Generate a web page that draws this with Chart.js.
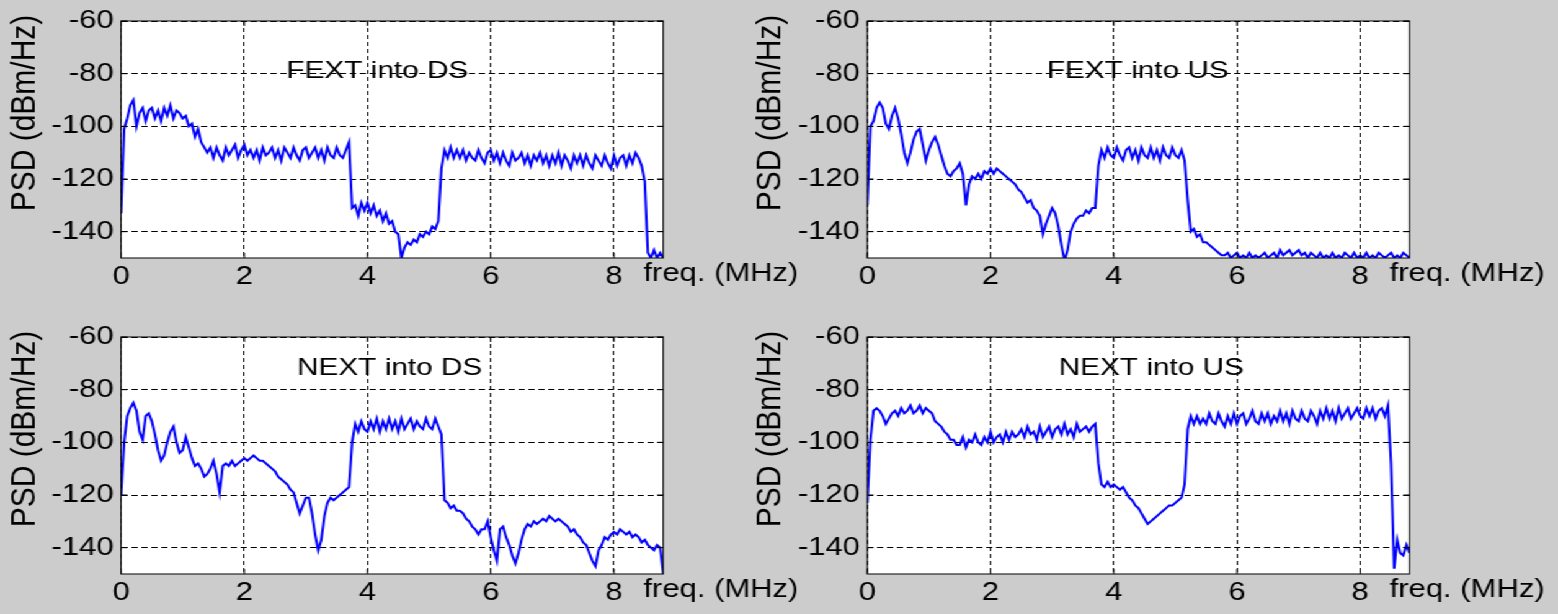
<!DOCTYPE html>
<html>
<head>
<meta charset="utf-8">
<title>FEXT / NEXT PSD</title>
<script src="https://cdn.jsdelivr.net/npm/chart.js@4.4.1/dist/chart.umd.min.js"></script>
<style>
  html, body { margin: 0; padding: 0; background: #cccccc; }
  body { width: 1558px; height: 614px; overflow: hidden; }
  /* the figure is drawn narrow and stretched sideways, like the source image */
  #fig { position: relative; height: 614px; transform-origin: 0 0; }
  #fig canvas { position: absolute; left: 0; top: 0; }
</style>
</head>
<body>
<div id="fig">
  <canvas id="fextDs"></canvas>
  <canvas id="fextUs"></canvas>
  <canvas id="nextDs"></canvas>
  <canvas id="nextUs"></canvas>
</div>
<script>
// ============================================
// DATA  (PSD in dBm/Hz, one value every 0.05 MHz from 0 to 8.8 MHz)
// ============================================
const FREQ_STEP = 0.05;
const xTicks = [0, 2, 4, 6, 8];
const yTicks = [-140, -120, -100, -80, -60];

const psdFextDs = [
    -133, -101, -97, -92, -90, -100, -95, -93, -98, -94,
    -93, -97, -94, -98, -93, -96, -92, -97, -94, -95,
    -97, -96, -100, -99, -104, -101, -106, -108, -110, -108,
    -112, -108, -111, -113, -108, -111, -109, -107, -112, -109,
    -107, -111, -109, -112, -109, -113, -108, -111, -110, -108,
    -112, -109, -113, -108, -110, -112, -108, -111, -113, -109,
    -108, -112, -110, -108, -112, -109, -113, -108, -111, -112,
    -108, -111, -112, -109, -106, -131, -130, -134, -129, -132,
    -129, -133, -130, -134, -132, -136, -133, -137, -136, -140,
    -141, -150, -146, -144, -145, -143, -144, -141, -142, -140,
    -141, -138, -139, -136, -116, -109, -112, -108, -112, -109,
    -112, -109, -113, -110, -112, -113, -109, -112, -114, -110,
    -109, -113, -110, -114, -110, -113, -115, -110, -113, -112,
    -110, -114, -111, -115, -111, -113, -110, -114, -111, -115,
    -111, -114, -110, -115, -111, -113, -116, -111, -114, -111,
    -115, -111, -114, -116, -111, -113, -115, -111, -114, -116,
    -111, -115, -112, -111, -115, -111, -114, -110, -112, -115,
    -121, -148, -150, -147, -150, -148, -150
];

const psdFextUs = [
    -130, -100, -98, -93, -91, -93, -99, -101, -96, -93,
    -97, -103, -110, -114, -110, -105, -102, -101, -107, -113,
    -109, -106, -104, -107, -111, -115, -118, -119, -117, -116,
    -114, -118, -130, -122, -119, -120, -118, -120, -117, -118,
    -116, -118, -116, -117, -118, -119, -120, -121, -122, -124,
    -125, -127, -129, -128, -131, -132, -134, -141, -137, -134,
    -131, -133, -138, -145, -151, -147, -140, -137, -135, -134,
    -134, -132, -133, -131, -131, -115, -109, -112, -108, -111,
    -112, -108, -111, -113, -109, -108, -112, -109, -113, -108,
    -111, -112, -108, -112, -109, -113, -108, -111, -112, -108,
    -111, -112, -109, -113, -128, -140, -139, -142, -141, -144,
    -144, -145, -146, -147, -148, -149, -149, -148, -150, -149,
    -148, -150, -149, -150, -148, -150, -149, -150, -149, -148,
    -150, -149, -148, -150, -147, -149, -148, -147, -149, -148,
    -147, -149, -148, -150, -148, -149, -150, -148, -150, -149,
    -150, -148, -150, -149, -150, -148, -149, -150, -148, -150,
    -149, -150, -148, -150, -149, -150, -148, -149, -150, -149,
    -148, -150, -149, -150, -148, -149, -150
];

const psdNextDs = [
    -120, -100, -90, -87, -85, -88, -96, -99, -90, -89,
    -92, -97, -103, -107, -105, -100, -96, -94, -100, -104,
    -103, -98, -102, -106, -109, -108, -110, -113, -112, -110,
    -107, -112, -119, -109, -108, -109, -107, -109, -108, -107,
    -106, -107, -106, -105, -106, -107, -107, -108, -109, -110,
    -111, -113, -114, -115, -116, -118, -119, -123, -127, -124,
    -121, -121, -127, -135, -141, -137, -128, -123, -121, -122,
    -121, -120, -119, -118, -117, -100, -93, -96, -92, -95,
    -96, -92, -95, -91, -96, -92, -95, -91, -95, -92,
    -96, -91, -95, -93, -91, -95, -92, -94, -95, -91,
    -94, -95, -91, -94, -97, -122, -123, -125, -124, -126,
    -126, -127, -129, -130, -132, -133, -135, -133, -133, -130,
    -136, -141, -145, -133, -132, -136, -139, -143, -146, -142,
    -137, -133, -131, -132, -130, -131, -130, -129, -130, -128,
    -129, -130, -129, -130, -131, -132, -134, -133, -135, -136,
    -138, -139, -142, -145, -147, -141, -139, -136, -137, -135,
    -134, -135, -133, -134, -135, -134, -136, -135, -136, -138,
    -137, -139, -140, -141, -139, -140, -150
];

const psdNextUs = [
    -123, -99, -88, -87, -88, -90, -93, -91, -89, -88,
    -90, -87, -89, -88, -86, -89, -88, -86, -89, -87,
    -88, -89, -92, -93, -94, -96, -97, -99, -99, -101,
    -101, -98, -102, -99, -100, -97, -100, -101, -98, -100,
    -96, -100, -98, -97, -100, -96, -99, -96, -98, -97,
    -95, -98, -94, -97, -96, -99, -94, -98, -96, -94,
    -98, -95, -94, -97, -93, -97, -95, -98, -93, -96,
    -95, -94, -96, -94, -93, -108, -116, -117, -115, -117,
    -116, -117, -118, -117, -119, -121, -122, -124, -125, -127,
    -129, -131, -130, -129, -128, -127, -126, -125, -124, -124,
    -123, -122, -121, -116, -95, -90, -93, -90, -93, -91,
    -93, -89, -92, -93, -89, -92, -94, -90, -93, -89,
    -93, -90, -89, -93, -91, -88, -92, -93, -89, -92,
    -89, -93, -90, -92, -88, -92, -89, -93, -88, -91,
    -92, -88, -91, -92, -88, -90, -93, -88, -91, -87,
    -91, -88, -92, -87, -91, -89, -87, -91, -89, -87,
    -90, -91, -87, -90, -87, -91, -88, -87, -90, -86,
    -108, -148, -137, -142, -143, -139, -142
];

// ============================================
// LAYOUT  (page pixels; the figure box is drawn narrow then stretched)
// ============================================
const PAGE_W = 1558;
const PAGE_H = 614;
const STRETCH = 1.24;
const FIG_W = Math.round(PAGE_W / STRETCH);
const Y_AXIS_W = 60;
const X_AXIS_H = 40;
const COL_LEFT = [121, 867].map(v => v / STRETCH);
const COL_RIGHT = [663, 1409].map(v => v / STRETCH);
const ROW_TOP = [19, 337];
const ROW_BOTTOM = [258, 574];
const FONT = '"Liberation Sans", Arial, Helvetica, sans-serif';
const FONT_SIZE = 25;

const panels = [
    { id: 'fextDs', title: 'FEXT into DS', psd: psdFextDs, col: 0, row: 0, titleAt: [4.16, -79] },
    { id: 'fextUs', title: 'FEXT into US', psd: psdFextUs, col: 1, row: 0, titleAt: [4.39, -79] },
    { id: 'nextDs', title: 'NEXT into DS', psd: psdNextDs, col: 0, row: 1, titleAt: [4.36, -72] },
    { id: 'nextUs', title: 'NEXT into US', psd: psdNextUs, col: 1, row: 1, titleAt: [4.61, -72] }
];

const fig = document.getElementById('fig');
fig.style.width = FIG_W + 'px';
fig.style.transform = 'scaleX(' + (PAGE_W / FIG_W) + ')';

// ============================================
// MATLAB-LIKE AXES DECORATION
// ============================================
const axesDecor = {
    id: 'axesDecor',
    beforeDraw(chart) {
        const a = chart.chartArea;
        const ctx = chart.ctx;
        ctx.save();
        ctx.fillStyle = '#ffffff';
        ctx.fillRect(a.left, a.top, a.right - a.left, a.bottom - a.top);
        ctx.restore();
    },
    afterDraw(chart, args, opts) {
        const a = chart.chartArea;
        const ctx = chart.ctx;
        const xs = chart.scales.x;
        const ys = chart.scales.y;
        const tick = 5;

        ctx.save();
        // box + inward ticks
        ctx.strokeStyle = '#000000';
        ctx.lineWidth = 1;
        ctx.strokeRect(a.left, a.top, a.right - a.left, a.bottom - a.top);
        ctx.beginPath();
        xTicks.forEach(v => {
            const px = xs.getPixelForValue(v);
            ctx.moveTo(px, a.bottom); ctx.lineTo(px, a.bottom - tick);
            ctx.moveTo(px, a.top); ctx.lineTo(px, a.top + tick);
        });
        yTicks.forEach(v => {
            const py = ys.getPixelForValue(v);
            ctx.moveTo(a.left, py); ctx.lineTo(a.left + tick, py);
            ctx.moveTo(a.right, py); ctx.lineTo(a.right - tick, py);
        });
        ctx.stroke();

        ctx.fillStyle = '#000000';

        // panel title inside the axes
        ctx.font = '24px ' + FONT;
        ctx.textAlign = 'center';
        ctx.textBaseline = 'middle';
        ctx.fillText(opts.title, xs.getPixelForValue(opts.titleAt[0]), ys.getPixelForValue(opts.titleAt[1]));

        // x label sits on the tick label row, right of the last tick
        ctx.font = FONT_SIZE + 'px ' + FONT;
        ctx.textAlign = 'left';
        ctx.textBaseline = 'top';
        ctx.fillText('freq. (MHz)', a.right - 16, a.bottom + 4);

        // y label
        ctx.translate(a.left - 72 / STRETCH * 1.33, a.top + 92);
        ctx.rotate(-Math.PI / 2);
        ctx.scale(1, 0.9);
        ctx.font = '30px ' + FONT;
        ctx.textAlign = 'center';
        ctx.textBaseline = 'middle';
        ctx.fillText('PSD (dBm/Hz)', 0, 0);
        ctx.restore();
    }
};

// ============================================
// RENDER
// ============================================
function renderPanel(p) {
    const canvas = document.getElementById(p.id);
    canvas.width = FIG_W;
    canvas.height = PAGE_H;
    const points = p.psd.map((v, i) => ({ x: +(i * FREQ_STEP).toFixed(2), y: v }));

    const gridStyle = {
        color: '#000000',
        lineWidth: 1,
        drawTicks: false
    };

    new Chart(canvas.getContext('2d'), {
        type: 'line',
        data: {
            datasets: [{
                data: points,
                borderColor: '#0000ff',
                borderWidth: 2,
                pointRadius: 0,
                tension: 0,
                fill: false
            }]
        },
        options: {
            responsive: false,
            animation: false,
            events: [],
            layout: {
                padding: {
                    left: COL_LEFT[p.col] - Y_AXIS_W,
                    right: FIG_W - COL_RIGHT[p.col],
                    top: ROW_TOP[p.row],
                    bottom: PAGE_H - ROW_BOTTOM[p.row] - X_AXIS_H
                }
            },
            plugins: {
                legend: { display: false },
                tooltip: { enabled: false },
                axesDecor: { title: p.title, titleAt: p.titleAt }
            },
            scales: {
                x: {
                    type: 'linear',
                    min: 0,
                    max: 8.8,
                    afterBuildTicks: s => { s.ticks = xTicks.map(v => ({ value: v })); },
                    afterFit: s => { s.height = X_AXIS_H; },
                    grid: gridStyle,
                    border: { display: false, dash: [4, 3] },
                    ticks: {
                        color: '#000000',
                        padding: 4,
                        maxRotation: 0,
                        font: { family: FONT, size: FONT_SIZE },
                        callback: v => String(v)
                    }
                },
                y: {
                    type: 'linear',
                    min: -150,
                    max: -60,
                    afterBuildTicks: s => { s.ticks = yTicks.map(v => ({ value: v })); },
                    afterFit: s => { s.width = Y_AXIS_W; },
                    grid: gridStyle,
                    border: { display: false, dash: [5, 3] },
                    ticks: {
                        color: '#000000',
                        padding: 6,
                        font: { family: FONT, size: FONT_SIZE },
                        callback: v => String(v)
                    }
                }
            }
        },
        plugins: [axesDecor]
    });
}

panels.forEach(renderPanel);
</script>
</body>
</html>
